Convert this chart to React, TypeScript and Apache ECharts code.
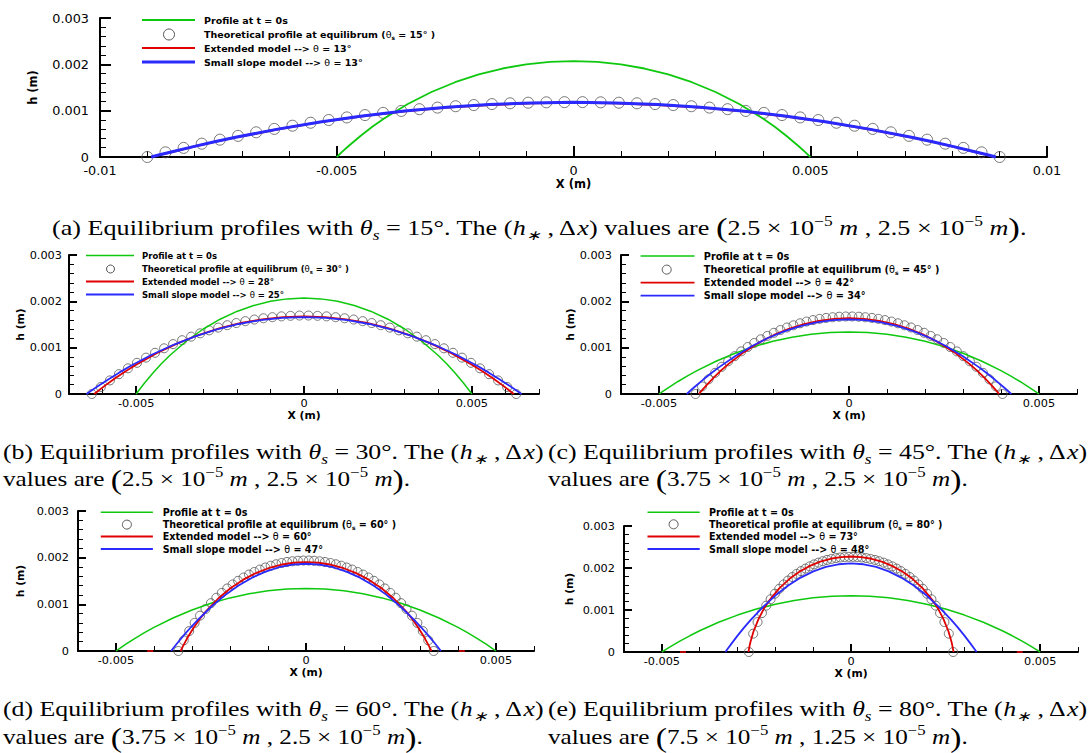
import React, { useEffect, useRef } from "react";
import * as echarts from "echarts";

// ---------- data (metres) ----------
const CIRCLES_A = [[-0.009,0],[-0.008617,0.000101],[-0.008234,0.000196],[-0.007851,0.000287],[-0.007468,0.000374],[-0.007085,0.000456],[-0.006702,0.000533],[-0.006319,0.000606],[-0.005936,0.000675],[-0.005553,0.000739],[-0.00517,0.000798],[-0.004787,0.000854],[-0.004404,0.000905],[-0.004021,0.000952],[-0.003638,0.000994],[-0.003255,0.001032],[-0.002872,0.001066],[-0.002489,0.001096],[-0.002106,0.001121],[-0.001723,0.001142],[-0.00134,0.001159],[-0.000957,0.001172],[-0.000574,0.00118],[-0.000191,0.001184],[0.000191,0.001184],[0.000574,0.00118],[0.000957,0.001172],[0.00134,0.001159],[0.001723,0.001142],[0.002106,0.001121],[0.002489,0.001096],[0.002872,0.001066],[0.003255,0.001032],[0.003638,0.000994],[0.004021,0.000952],[0.004404,0.000905],[0.004787,0.000854],[0.00517,0.000798],[0.005553,0.000739],[0.005936,0.000675],[0.006319,0.000606],[0.006702,0.000533],[0.007085,0.000456],[0.007468,0.000374],[0.007851,0.000287],[0.008234,0.000196],[0.008617,0.000101],[0.009,0]];
const CIRCLES_B = [[-0.00632,0],[-0.006051,0.000151],[-0.005782,0.000293],[-0.005513,0.000428],[-0.005244,0.000554],[-0.004975,0.000673],[-0.004706,0.000785],[-0.004437,0.000889],[-0.004168,0.000986],[-0.0039,0.001077],[-0.003631,0.001161],[-0.003362,0.001238],[-0.003093,0.001309],[-0.002824,0.001374],[-0.002555,0.001433],[-0.002286,0.001485],[-0.002017,0.001532],[-0.001748,0.001572],[-0.001479,0.001607],[-0.00121,0.001635],[-0.000941,0.001658],[-0.000672,0.001676],[-0.000403,0.001687],[-0.000134,0.001693],[0.000134,0.001693],[0.000403,0.001687],[0.000672,0.001676],[0.000941,0.001658],[0.00121,0.001635],[0.001479,0.001607],[0.001748,0.001572],[0.002017,0.001532],[0.002286,0.001485],[0.002555,0.001433],[0.002824,0.001374],[0.003093,0.001309],[0.003362,0.001238],[0.003631,0.001161],[0.0039,0.001077],[0.004168,0.000986],[0.004437,0.000889],[0.004706,0.000785],[0.004975,0.000673],[0.005244,0.000554],[0.005513,0.000428],[0.005782,0.000293],[0.006051,0.000151],[0.00632,0]];
const CIRCLES_C = [[-0.00404,0],[-0.003868,0.000165],[-0.003696,0.000317],[-0.003524,0.000457],[-0.003352,0.000587],[-0.00318,0.000706],[-0.003008,0.000817],[-0.002837,0.00092],[-0.002665,0.001014],[-0.002493,0.001101],[-0.002321,0.001181],[-0.002149,0.001254],[-0.001977,0.001321],[-0.001805,0.001381],[-0.001633,0.001435],[-0.001461,0.001483],[-0.001289,0.001526],[-0.001117,0.001563],[-0.000946,0.001595],[-0.000774,0.001621],[-0.000602,0.001642],[-0.00043,0.001657],[-0.000258,0.001668],[-0.000086,0.001673],[0.000086,0.001673],[0.000258,0.001668],[0.00043,0.001657],[0.000602,0.001642],[0.000774,0.001621],[0.000946,0.001595],[0.001117,0.001563],[0.001289,0.001526],[0.001461,0.001483],[0.001633,0.001435],[0.001805,0.001381],[0.001977,0.001321],[0.002149,0.001254],[0.002321,0.001181],[0.002493,0.001101],[0.002665,0.001014],[0.002837,0.00092],[0.003008,0.000817],[0.00318,0.000706],[0.003352,0.000587],[0.003524,0.000457],[0.003696,0.000317],[0.003868,0.000165],[0.00404,0]];
const CIRCLES_D = [[-0.00336,0],[-0.003217,0.000229],[-0.003074,0.000427],[-0.002931,0.000602],[-0.002788,0.000758],[-0.002645,0.000899],[-0.002502,0.001025],[-0.002359,0.00114],[-0.002216,0.001245],[-0.002073,0.00134],[-0.00193,0.001426],[-0.001787,0.001504],[-0.001644,0.001574],[-0.001501,0.001638],[-0.001358,0.001694],[-0.001215,0.001745],[-0.001072,0.001789],[-0.000929,0.001827],[-0.000786,0.001859],[-0.000643,0.001886],[-0.0005,0.001908],[-0.000357,0.001923],[-0.000214,0.001934],[-0.000072,0.001939],[0.000072,0.001939],[0.000214,0.001934],[0.000357,0.001923],[0.0005,0.001908],[0.000643,0.001886],[0.000786,0.001859],[0.000929,0.001827],[0.001072,0.001789],[0.001215,0.001745],[0.001358,0.001694],[0.001501,0.001638],[0.001644,0.001574],[0.001787,0.001504],[0.00193,0.001426],[0.002073,0.00134],[0.002216,0.001245],[0.002359,0.00114],[0.002502,0.001025],[0.002645,0.000899],[0.002788,0.000758],[0.002931,0.000602],[0.003074,0.000427],[0.003217,0.000229],[0.00336,0]];
const CIRCLES_E = [[-0.0027,0],[-0.002585,0.000437],[-0.00247,0.000713],[-0.002355,0.000927],[-0.00224,0.001104],[-0.002126,0.001256],[-0.002011,0.001388],[-0.001896,0.001505],[-0.001781,0.001608],[-0.001666,0.001701],[-0.001551,0.001785],[-0.001436,0.001859],[-0.001321,0.001926],[-0.001206,0.001986],[-0.001092,0.002039],[-0.000977,0.002086],[-0.000862,0.002127],[-0.000747,0.002162],[-0.000632,0.002192],[-0.000517,0.002216],[-0.000402,0.002236],[-0.000287,0.002251],[-0.000172,0.00226],[-0.000057,0.002265],[0.000057,0.002265],[0.000172,0.00226],[0.000287,0.002251],[0.000402,0.002236],[0.000517,0.002216],[0.000632,0.002192],[0.000747,0.002162],[0.000862,0.002127],[0.000977,0.002086],[0.001092,0.002039],[0.001206,0.001986],[0.001321,0.001926],[0.001436,0.001859],[0.001551,0.001785],[0.001666,0.001701],[0.001781,0.001608],[0.001896,0.001505],[0.002011,0.001388],[0.002126,0.001256],[0.00224,0.001104],[0.002355,0.000927],[0.00247,0.000713],[0.002585,0.000437],[0.0027,0]];

const GREEN_45 = [[-0.005,0],[-0.0049,0.000098],[-0.00475,0.000238],[-0.0045,0.000454],[-0.00425,0.000651],[-0.004,0.000831],[-0.0035,0.001144],[-0.003,0.001403],[-0.0025,0.001614],[-0.002,0.001782],[-0.0015,0.00191],[-0.001,0.002],[-0.0005,0.002053],[0,0.002071],[0.0005,0.002053],[0.001,0.002],[0.0015,0.00191],[0.002,0.001782],[0.0025,0.001614],[0.003,0.001403],[0.0035,0.001144],[0.004,0.000831],[0.00425,0.000651],[0.0045,0.000454],[0.00475,0.000238],[0.0049,0.000098],[0.005,0]];
const GREEN_30 = [[-0.005,0],[-0.0049,0.000057],[-0.00475,0.00014],[-0.0045,0.00027],[-0.00425,0.000392],[-0.004,0.000505],[-0.0035,0.000707],[-0.003,0.000879],[-0.0025,0.001022],[-0.002,0.001138],[-0.0015,0.001227],[-0.001,0.00129],[-0.0005,0.001327],[0,0.00134],[0.0005,0.001327],[0.001,0.00129],[0.0015,0.001227],[0.002,0.001138],[0.0025,0.001022],[0.003,0.000879],[0.0035,0.000707],[0.004,0.000505],[0.00425,0.000392],[0.0045,0.00027],[0.00475,0.00014],[0.0049,0.000057],[0.005,0]];

const RED_A = [[-0.0089,0],[-0.008722,0.000048],[-0.008455,0.000117],[-0.00801,0.000226],[-0.007565,0.00033],[-0.00712,0.000427],[-0.00623,0.000603],[-0.00534,0.000755],[-0.00445,0.000883],[-0.00356,0.000987],[-0.00267,0.001068],[-0.00178,0.001126],[-0.00089,0.00116],[0,0.001172],[0.00089,0.00116],[0.00178,0.001126],[0.00267,0.001068],[0.00356,0.000987],[0.00445,0.000883],[0.00534,0.000755],[0.00623,0.000603],[0.00712,0.000427],[0.007565,0.00033],[0.00801,0.000226],[0.008455,0.000117],[0.008722,0.000048],[0.0089,0]];
const BLUE_A = [[-0.00892,0],[-0.008742,0.000047],[-0.008474,0.000115],[-0.008028,0.000224],[-0.007582,0.000328],[-0.007136,0.000425],[-0.006244,0.000602],[-0.005352,0.000755],[-0.00446,0.000885],[-0.003568,0.000991],[-0.002676,0.001074],[-0.001784,0.001133],[-0.000892,0.001168],[0,0.00118],[0.000892,0.001168],[0.001784,0.001133],[0.002676,0.001074],[0.003568,0.000991],[0.00446,0.000885],[0.005352,0.000755],[0.006244,0.000602],[0.007136,0.000425],[0.007582,0.000328],[0.008028,0.000224],[0.008474,0.000115],[0.008742,0.000047],[0.00892,0]];
const RED_B = [[-0.00625,0],[-0.006125,0.000071],[-0.005938,0.000175],[-0.005625,0.000338],[-0.005313,0.00049],[-0.005,0.000631],[-0.004375,0.000884],[-0.00375,0.001099],[-0.003125,0.001278],[-0.0025,0.001422],[-0.001875,0.001533],[-0.00125,0.001612],[-0.000625,0.001659],[0,0.001675],[0.000625,0.001659],[0.00125,0.001612],[0.001875,0.001533],[0.0025,0.001422],[0.003125,0.001278],[0.00375,0.001099],[0.004375,0.000884],[0.005,0.000631],[0.005313,0.00049],[0.005625,0.000338],[0.005938,0.000175],[0.006125,0.000071],[0.00625,0]];
const BLUE_B = [[-0.00648,0],[-0.00635,0.000066],[-0.006156,0.000162],[-0.005832,0.000315],[-0.005508,0.000461],[-0.005184,0.000598],[-0.004536,0.000847],[-0.003888,0.001062],[-0.00324,0.001245],[-0.002592,0.001394],[-0.001944,0.001511],[-0.001296,0.001594],[-0.000648,0.001643],[0,0.00166],[0.000648,0.001643],[0.001296,0.001594],[0.001944,0.001511],[0.002592,0.001394],[0.00324,0.001245],[0.003888,0.001062],[0.004536,0.000847],[0.005184,0.000598],[0.005508,0.000461],[0.005832,0.000315],[0.006156,0.000162],[0.00635,0.000066],[0.00648,0]];
const RED_C = [[-0.00395,0],[-0.003871,0.000077],[-0.003753,0.000188],[-0.003555,0.000359],[-0.003358,0.000515],[-0.00316,0.000656],[-0.002765,0.000904],[-0.00237,0.001108],[-0.001975,0.001275],[-0.00158,0.001408],[-0.001185,0.001509],[-0.00079,0.00158],[-0.000395,0.001622],[0,0.001636],[0.000395,0.001622],[0.00079,0.00158],[0.001185,0.001509],[0.00158,0.001408],[0.001975,0.001275],[0.00237,0.001108],[0.002765,0.000904],[0.00316,0.000656],[0.003358,0.000515],[0.003555,0.000359],[0.003753,0.000188],[0.003871,0.000077],[0.00395,0]];
const BLUE_C = [[-0.00427,0],[-0.004185,0.000064],[-0.004057,0.000157],[-0.003843,0.000306],[-0.00363,0.000447],[-0.003416,0.00058],[-0.002989,0.000821],[-0.002562,0.00103],[-0.002135,0.001208],[-0.001708,0.001352],[-0.001281,0.001465],[-0.000854,0.001546],[-0.000427,0.001594],[0,0.00161],[0.000427,0.001594],[0.000854,0.001546],[0.001281,0.001465],[0.001708,0.001352],[0.002135,0.001208],[0.002562,0.00103],[0.002989,0.000821],[0.003416,0.00058],[0.00363,0.000447],[0.003843,0.000306],[0.004057,0.000157],[0.004185,0.000064],[0.00427,0]];
const RED_D = [[-0.0033,0],[-0.003234,0.00011],[-0.003135,0.000261],[-0.00297,0.000482],[-0.002805,0.000674],[-0.00264,0.000843],[-0.00231,0.001125],[-0.00198,0.00135],[-0.00165,0.001529],[-0.00132,0.001669],[-0.00099,0.001774],[-0.00066,0.001848],[-0.00033,0.001891],[0,0.001905],[0.00033,0.001891],[0.00066,0.001848],[0.00099,0.001774],[0.00132,0.001669],[0.00165,0.001529],[0.00198,0.00135],[0.00231,0.001125],[0.00264,0.000843],[0.002805,0.000674],[0.00297,0.000482],[0.003135,0.000261],[0.003234,0.00011],[0.0033,0]];
const BLUE_D = [[-0.00355,0],[-0.003479,0.000074],[-0.003373,0.000182],[-0.003195,0.000355],[-0.003018,0.000519],[-0.00284,0.000673],[-0.002485,0.000954],[-0.00213,0.001197],[-0.001775,0.001403],[-0.00142,0.001571],[-0.001065,0.001702],[-0.00071,0.001795],[-0.000355,0.001851],[0,0.00187],[0.000355,0.001851],[0.00071,0.001795],[0.001065,0.001702],[0.00142,0.001571],[0.001775,0.001403],[0.00213,0.001197],[0.002485,0.000954],[0.00284,0.000673],[0.003018,0.000519],[0.003195,0.000355],[0.003373,0.000182],[0.003479,0.000074],[0.00355,0]];
const RED_E = [[-0.00271,0],[-0.002683,0.000134],[-0.002656,0.000243],[-0.002575,0.000494],[-0.002439,0.000796],[-0.002304,0.001028],[-0.002168,0.001217],[-0.001897,0.001516],[-0.001626,0.001742],[-0.001355,0.001917],[-0.001084,0.002051],[-0.000813,0.002151],[-0.000542,0.00222],[-0.000271,0.002261],[0,0.002274],[0.000271,0.002261],[0.000542,0.00222],[0.000813,0.002151],[0.001084,0.002051],[0.001355,0.001917],[0.001626,0.001742],[0.001897,0.001516],[0.002168,0.001217],[0.002304,0.001028],[0.002439,0.000796],[0.002575,0.000494],[0.002656,0.000243],[0.002683,0.000134],[0.00271,0]];
const BLUE_E = [[-0.00332,0],[-0.003254,0.000083],[-0.003154,0.000206],[-0.002988,0.000401],[-0.002822,0.000586],[-0.002656,0.00076],[-0.002324,0.001076],[-0.001992,0.00135],[-0.00166,0.001583],[-0.001328,0.001772],[-0.000996,0.00192],[-0.000664,0.002026],[-0.000332,0.002089],[0,0.00211],[0.000332,0.002089],[0.000664,0.002026],[0.000996,0.00192],[0.001328,0.001772],[0.00166,0.001583],[0.001992,0.00135],[0.002324,0.001076],[0.002656,0.00076],[0.002822,0.000586],[0.002988,0.000401],[0.003154,0.000206],[0.003254,0.000083],[0.00332,0]];
const RED_FILM_D = [[-0.0041,0],[0.0041,0]];
const RED_FILM_E = [[-0.00444,0],[0.00446,0]];

const X_TICKS_A = [-0.01, -0.005, 0, 0.005, 0.01];
const X_TICKS_BE = [-0.005, 0, 0.005];
const PANEL_LETTERS = ["a", "b", "c", "d", "e"];
const THETA_S = [15, 30, 45, 60, 80];
const THETA_EXT = [13, 28, 42, 60, 73];
const THETA_SMALL = [13, 25, 34, 47, 48];
const H_STAR = ["2.5", "2.5", "3.75", "3.75", "7.5"];
const DELTA_X = ["2.5", "2.5", "2.5", "2.5", "1.25"];

const CIRCLES = [CIRCLES_A, CIRCLES_B, CIRCLES_C, CIRCLES_D, CIRCLES_E];
const GREENS = [GREEN_45, GREEN_45, GREEN_30, GREEN_30, GREEN_30];
const REDS = [RED_A, RED_B, RED_C, RED_D, RED_E];
const BLUES = [BLUE_A, BLUE_B, BLUE_C, BLUE_D, BLUE_E];
const FILMS = [null, null, null, RED_FILM_D, RED_FILM_E];

// ---------- layout ----------
const GREEN = "#0ec80e";
const RED = "#e00000";
const BLUE = "#2a2aff";
const MARK = "#555555";

const LAYOUT = [
  { grid: { left: 100, top: 18, width: 947, height: 139 }, xMin: -0.01, xMax: 0.01, ticks: X_TICKS_A,
    labelSize: 12.8, nameSize: 11.5, yNameGap: 61, xNameGap: 20, majorLen: 11, minorLen: 6, yLabelMargin: 11, xLabelMargin: 7,
    symbolSize: 11, greenW: 1.8, redW: 2.2, blueW: 3,
    legend: { x1: 142, x2: 195, tx: 204, rows: [20, 34.5, 48, 62], cx: 169, r: 5.5, fs: 9.5 } },
  { grid: { left: 69, top: 255, width: 470, height: 139 }, xMin: -0.007, xMax: 0.007, ticks: X_TICKS_BE,
    labelSize: 11.3, nameSize: 10.8, yNameGap: 40, xNameGap: 16, majorLen: 8, minorLen: 5, yLabelMargin: 7, xLabelMargin: 4,
    symbolSize: 9, greenW: 1.5, redW: 1.8, blueW: 1.8,
    legend: { x1: 86, x2: 134, tx: 142, rows: [255.5, 269, 281.5, 294.5], cx: 110.5, r: 4, fs: 8.5 } },
  { grid: { left: 621, top: 255, width: 456, height: 139 }, xMin: -0.006, xMax: 0.006, ticks: X_TICKS_BE,
    labelSize: 11.3, nameSize: 10.8, yNameGap: 45, xNameGap: 16, majorLen: 8, minorLen: 5, yLabelMargin: 9, xLabelMargin: 4,
    symbolSize: 9, greenW: 1.5, redW: 1.8, blueW: 1.8,
    legend: { x1: 640.6, x2: 694.5, tx: 703.8, rows: [256, 269.6, 282.6, 295.7], cx: 666.7, r: 4.5, fs: 9.7 } },
  { grid: { left: 78, top: 511, width: 456, height: 140 }, xMin: -0.006, xMax: 0.006, ticks: X_TICKS_BE,
    labelSize: 11.3, nameSize: 10.8, yNameGap: 52, xNameGap: 15, majorLen: 8, minorLen: 5, yLabelMargin: 9, xLabelMargin: 4,
    symbolSize: 9, greenW: 1.5, redW: 1.8, blueW: 1.8,
    legend: { x1: 100.8, x2: 152.9, tx: 162.7, rows: [512.3, 524.6, 536.5, 549], cx: 126.9, r: 4.5, fs: 9.6 } },
  { grid: { left: 624, top: 526, width: 454, height: 126 }, xMin: -0.006, xMax: 0.006, ticks: X_TICKS_BE,
    labelSize: 11.3, nameSize: 10.8, yNameGap: 49, xNameGap: 15, majorLen: 8, minorLen: 5, yLabelMargin: 9, xLabelMargin: 4,
    symbolSize: 9, greenW: 1.5, redW: 1.8, blueW: 1.8,
    legend: { x1: 647.5, x2: 699.7, tx: 709, rows: [512.3, 524.3, 536.5, 549], cx: 673.6, r: 4.5, fs: 9.6 } },
];
const CAPTION_POS = [
  { x: 52, ys: [228], sx: [1.245] },
  { x: 3, ys: [452, 479], sx: [1.23, 1.2] },
  { x: 548, ys: [452, 479], sx: [1.23, 1.2] },
  { x: 3, ys: [709, 737], sx: [1.23, 1.2] },
  { x: 548, ys: [709, 737], sx: [1.23, 1.2] },
];

const SANS = "DejaVu Sans";
const SERIF = "Liberation Serif";

function buildOption() {
  const grids: any[] = [];
  const xAxes: any[] = [];
  const yAxes: any[] = [];
  const series: any[] = [];
  const elements: any[] = [];

  LAYOUT.forEach((L, i) => {
    grids.push({ ...L.grid, containLabel: false });
    xAxes.push({
      gridIndex: i, type: "value", min: L.xMin, max: L.xMax, interval: 0.001, position: "bottom",
      axisLine: { show: true, onZero: false, lineStyle: { color: "#000", width: 2 } },
      axisTick: { show: true, inside: true, length: L.minorLen, lineStyle: { color: "#000", width: 1 } },
      axisLabel: { show: true, customValues: L.ticks, margin: L.xLabelMargin, fontSize: L.labelSize, fontFamily: SANS, color: "#000" },
      splitLine: { show: false },
      name: "X (m)", nameLocation: "middle", nameGap: L.xNameGap,
      nameTextStyle: { fontWeight: "bold", fontSize: L.nameSize, fontFamily: SANS, color: "#000" },
    });
    xAxes.push({
      gridIndex: i, type: "value", min: L.xMin, max: L.xMax, position: "bottom",
      axisLine: { show: false },
      axisTick: { show: true, inside: true, length: L.majorLen, customValues: L.ticks, lineStyle: { color: "#000", width: 2 } },
      axisLabel: { show: false }, splitLine: { show: false },
    });
    yAxes.push({
      gridIndex: i, type: "value", min: 0, max: 0.003, interval: 0.001,
      axisLine: { show: true, onZero: false, lineStyle: { color: "#000", width: 2 } },
      axisTick: { show: true, inside: true, length: L.majorLen, lineStyle: { color: "#000", width: 2 } },
      minorTick: { show: true, splitNumber: 5, length: L.minorLen, lineStyle: { color: "#000", width: 1 } },
      axisLabel: { margin: L.yLabelMargin, fontSize: L.labelSize, fontFamily: SANS, color: "#000" },
      splitLine: { show: false }, minorSplitLine: { show: false },
      name: "h (m)", nameLocation: "middle", nameGap: L.yNameGap,
      nameTextStyle: { fontWeight: "bold", fontSize: L.nameSize, fontFamily: SANS, color: "#000" },
    });

    const xi = 2 * i;
    series.push({
      type: "scatter", xAxisIndex: xi, yAxisIndex: i, data: CIRCLES[i], symbol: "circle", symbolSize: L.symbolSize,
      itemStyle: { color: "rgba(255,255,255,0)", borderColor: MARK, borderWidth: 1 }, clip: false, silent: true, z: 2,
    });
    series.push({
      type: "line", xAxisIndex: xi, yAxisIndex: i, data: GREENS[i], symbol: "none", showSymbol: false,
      lineStyle: { color: GREEN, width: L.greenW }, clip: false, silent: true, z: 3,
    });
    series.push({
      type: "line", xAxisIndex: xi, yAxisIndex: i, data: REDS[i], symbol: "none", showSymbol: false,
      lineStyle: { color: RED, width: L.redW }, clip: false, silent: true, z: 4,
    });
    series.push({
      type: "line", xAxisIndex: xi, yAxisIndex: i, data: BLUES[i], symbol: "none", showSymbol: false,
      lineStyle: { color: BLUE, width: L.blueW }, clip: false, silent: true, z: 5,
    });
    const film = FILMS[i];
    if (film) {
      series.push({
        type: "scatter", xAxisIndex: xi, yAxisIndex: i, data: film, symbol: "rect", symbolSize: [6, 2],
        itemStyle: { color: RED }, clip: false, silent: true, z: 1,
      });
    }

    // legend
    const G = L.legend;
    const fs = G.fs;
    const rich = {
      t: { fontFamily: SANS, fontWeight: "normal", fontSize: fs, lineHeight: fs + 3 },
      s: { fontFamily: SANS, fontWeight: "bold", fontSize: fs * 0.62, verticalAlign: "bottom", lineHeight: fs * 0.9 },
    };
    const texts = [
      "Profile at t = 0s",
      `Theoretical profile at equilibrum ({t|θ}{s|s} = ${THETA_S[i]}° )`,
      `Extended model --> {t|θ} = ${THETA_EXT[i]}°`,
      `Small slope model --> {t|θ} = ${THETA_SMALL[i]}°`,
    ];
    const lineEl = (y: number, color: string, w: number) => ({
      type: "line", shape: { x1: G.x1, y1: y, x2: G.x2, y2: y }, style: { stroke: color, lineWidth: w }, silent: true,
    });
    elements.push(lineEl(G.rows[0], GREEN, L.greenW));
    elements.push({ type: "circle", shape: { cx: G.cx, cy: G.rows[1], r: G.r }, style: { fill: "none", stroke: MARK, lineWidth: 1 }, silent: true });
    elements.push(lineEl(G.rows[2], RED, L.redW));
    elements.push(lineEl(G.rows[3], BLUE, L.blueW));
    texts.forEach((t, k) => {
      elements.push({
        type: "text", x: G.tx, y: G.rows[k], silent: true,
        style: {
          text: t, rich, fontFamily: SANS, fontWeight: "bold", fontSize: fs, lineHeight: fs + 3, fill: "#000",
          align: "left", verticalAlign: "middle", textAlign: "left", textVerticalAlign: "middle",
        },
      });
    });

    // caption
    const P = CAPTION_POS[i];
    const capRich = {
      it: { fontStyle: "italic", fontFamily: SERIF, fontSize: 21, lineHeight: 28 },
      sub: { fontStyle: "italic", fontFamily: SERIF, fontSize: 14, verticalAlign: "bottom", lineHeight: 18 },
      sup: { fontFamily: SERIF, fontSize: 14, verticalAlign: "top", lineHeight: 16 },
      big: { fontFamily: SERIF, fontSize: 28, lineHeight: 28 },
    };
    const l1 = `(${PANEL_LETTERS[i]}) Equilibrium profiles with {it|θ}{sub|s} = ${THETA_S[i]}°. The ({it|h}{sub|∗} , Δ{it|x})`;
    const l2 = `values are {big|(}${H_STAR[i]} × 10{sup|−5} {it|m} , ${DELTA_X[i]} × 10{sup|−5} {it|m}{big|)}.`;
    const lines = P.ys.length === 1 ? [l1 + " " + l2] : [l1, l2];
    lines.forEach((txt, k) => {
      elements.push({
        type: "text", x: P.x, y: P.ys[k], scaleX: P.sx[k], silent: true,
        style: {
          text: txt, rich: capRich, fontFamily: SERIF, fontSize: 21, lineHeight: 28, fill: "#000",
          align: "left", verticalAlign: "middle", textAlign: "left", textVerticalAlign: "middle",
        },
      });
    });
  });

  return {
    animation: false,
    backgroundColor: "#ffffff",
    grid: grids,
    xAxis: xAxes,
    yAxis: yAxes,
    series,
    graphic: { elements },
  };
}

export default function App() {
  const ref = useRef<HTMLDivElement>(null);
  useEffect(() => {
    if (!ref.current) return;
    const chart = echarts.init(ref.current, null, { renderer: "svg" });
    chart.setOption(buildOption() as any);
    return () => chart.dispose();
  }, []);
  return (
    <div
      ref={ref}
      style={{ position: "absolute", left: 0, top: 0, width: 1090, height: 753, background: "#fff" }}
    />
  );
}
